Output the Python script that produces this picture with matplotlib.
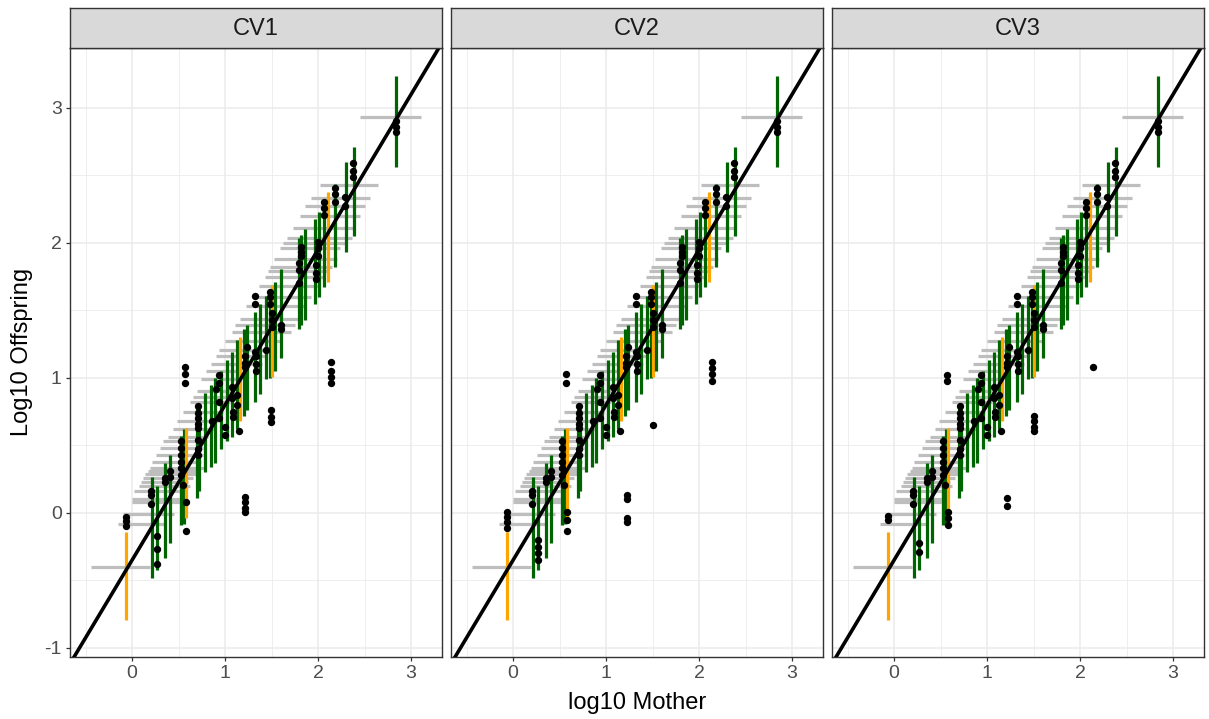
import matplotlib.pyplot as plt

plt.rcParams['font.family'] = ['Liberation Sans', 'DejaVu Sans']
plt.rcParams['axes.unicode_minus'] = False

panels = ["CV1", "CV2", "CV3"]

# fitted line
fit_intercept = -0.35
fit_slope = 1.15

# vertical intervals on offspring at each mother value
bar_x = [-0.07, 0.21, 0.27, 0.35, 0.41, 0.53, 0.56, 0.58, 0.70, 0.72,
         0.78, 0.85, 0.89, 0.96, 1.02, 1.07, 1.13, 1.16, 1.20, 1.24,
         1.32, 1.38, 1.44, 1.48, 1.50, 1.54, 1.60, 1.79, 1.82, 1.86,
         1.97, 2.01, 2.06, 2.11, 2.18, 2.30, 2.39, 2.84]
bar_lo = [-0.79, -0.48, -0.42, -0.33, -0.22, -0.09, -0.08, -0.04, 0.11, 0.16,
          0.30, 0.34, 0.37, 0.47, 0.53, 0.56, 0.62, 0.68, 0.72, 0.76,
          0.82, 0.88, 0.99, 1.00, 1.01, 1.05, 1.15, 1.36, 1.39, 1.43,
          1.55, 1.60, 1.67, 1.71, 1.82, 1.93, 2.05, 2.56]
bar_hi = [-0.14, 0.27, 0.20, 0.37, 0.43, 0.57, 0.62, 0.63, 0.81, 0.78,
          0.89, 0.95, 1.00, 1.05, 1.13, 1.19, 1.28, 1.30, 1.36, 1.39,
          1.49, 1.55, 1.61, 1.66, 1.69, 1.71, 1.81, 2.04, 2.06, 2.10,
          2.18, 2.23, 2.27, 2.38, 2.44, 2.60, 2.71, 3.24]
bar_outside = [1, 0, 0, 0, 0, 0, 0, 1, 0, 0,
               0, 0, 0, 0, 0, 0, 0, 1, 0, 0,
               0, 0, 0, 0, 1, 0, 0, 0, 0, 0,
               0, 0, 0, 1, 0, 0, 0, 0]

# horizontal intervals on mother at each offspring value
hbar_y = [-0.40, -0.08, -0.01, 0.08, 0.10, 0.16, 0.20, 0.23, 0.26, 0.29,
          0.31, 0.33, 0.38, 0.43, 0.48, 0.53, 0.56, 0.62, 0.68, 0.75,
          0.82, 0.86, 0.90, 0.99, 1.05, 1.10, 1.16, 1.21, 1.27, 1.34,
          1.39, 1.44, 1.53, 1.60, 1.68, 1.75, 1.79, 1.82, 1.88, 1.96,
          2.00, 2.04, 2.11, 2.20, 2.27, 2.33, 2.43, 2.93]
hbar_lo = [-0.44, -0.15, -0.10, 0.00, 0.00, 0.02, 0.07, 0.10, 0.12, 0.14,
           0.17, 0.19, 0.22, 0.26, 0.30, 0.33, 0.39, 0.44, 0.48, 0.55,
           0.62, 0.66, 0.70, 0.74, 0.80, 0.85, 0.90, 0.93, 1.00, 1.07,
           1.11, 1.16, 1.23, 1.30, 1.37, 1.43, 1.46, 1.48, 1.53, 1.59,
           1.62, 1.67, 1.73, 1.81, 1.86, 1.92, 2.02, 2.45]
hbar_hi = [0.19, 0.35, 0.45, 0.52, 0.55, 0.55, 0.62, 0.60, 0.66, 0.70,
           0.72, 0.78, 0.74, 0.76, 0.76, 0.80, 0.82, 0.88, 0.92, 0.98,
           1.05, 1.08, 1.08, 1.14, 1.18, 1.40, 1.45, 1.51, 1.60, 1.71,
           1.75, 1.78, 1.86, 1.92, 2.00, 2.08, 2.12, 2.15, 2.20, 2.24,
           2.30, 2.37, 2.38, 2.45, 2.50, 2.56, 2.64, 3.11]

# observations common to every fold
core_x = [0.20, 0.20, 0.20, 0.35, 0.35, 0.41, 0.41,
          0.53, 0.53, 0.53, 0.53, 0.53, 0.53, 0.55,
          0.71, 0.71, 0.71, 0.71, 0.71, 0.71, 0.71, 0.71,
          0.86, 0.90, 0.94, 0.94, 0.94, 0.94, 1.00, 1.00,
          1.07, 1.07, 1.13, 1.13, 1.15, 1.09, 1.09,
          1.22, 1.22, 1.22, 1.24, 1.32, 1.32, 1.33, 1.33, 1.33, 1.32,
          1.44, 1.48, 1.48, 1.48, 1.50, 1.50, 1.50, 1.60, 1.60,
          1.82, 1.82, 1.82, 1.80, 1.80, 1.79,
          2.00, 2.00, 2.00, 1.98, 1.98, 1.98,
          2.06, 2.06, 2.06, 2.18, 2.18, 2.18, 2.29, 2.29,
          2.38, 2.38, 2.38, 2.84, 2.84, 2.84]
core_y = [0.16, 0.13, 0.07, 0.26, 0.23, 0.31, 0.27,
          0.53, 0.48, 0.43, 0.38, 0.33, 0.28, 0.21,
          0.79, 0.74, 0.70, 0.66, 0.63, 0.54, 0.47, 0.43,
          0.68, 0.92, 1.02, 0.96, 0.82, 0.70, 0.64, 0.58,
          0.93, 0.85, 0.87, 0.80, 0.61, 0.75, 0.71,
          1.16, 1.11, 1.08, 1.23, 1.61, 1.55, 1.16, 1.10, 1.05, 1.19,
          1.21, 1.64, 1.60, 1.55, 1.48, 1.43, 1.38, 1.39, 1.36,
          1.97, 1.93, 1.90, 1.85, 1.80, 1.70,
          2.01, 1.96, 1.90, 1.84, 1.78, 1.73,
          2.30, 2.26, 2.21, 2.41, 2.36, 2.30, 2.34, 2.27,
          2.59, 2.53, 2.49, 2.90, 2.86, 2.82]

# observations that differ between folds
fold_x = {
    "CV1": [-0.07, -0.07, -0.07, 0.27, 0.27, 0.27, 0.58, 0.58,
            0.57, 0.57, 0.57, 1.21, 1.21, 1.21, 1.21,
            1.49, 1.49, 1.49, 2.14, 2.14, 2.14, 2.14],
    "CV2": [-0.07, -0.07, -0.07, -0.07, 0.27, 0.27, 0.27, 0.27,
            0.58, 0.58, 0.58, 0.57, 0.57, 1.23, 1.23, 1.23, 1.23,
            1.50, 2.14, 2.14, 2.14, 2.14],
    "CV3": [-0.07, -0.07, 0.27, 0.27, 0.58, 0.58, 0.58,
            0.57, 0.57, 1.22, 1.22,
            1.50, 1.50, 1.50, 1.50, 2.14],
}
fold_y = {
    "CV1": [-0.03, -0.06, -0.10, -0.17, -0.27, -0.38, 0.08, -0.13,
            1.08, 1.03, 0.96, 0.12, 0.08, 0.04, 0.01,
            0.76, 0.71, 0.67, 1.12, 1.05, 1.01, 0.96],
    "CV2": [0.01, -0.03, -0.07, -0.11, -0.20, -0.25, -0.30, -0.35,
            0.01, -0.05, -0.13, 1.03, 0.96, 0.13, 0.10, -0.04, -0.07,
            0.65, 1.12, 1.07, 1.03, 0.98],
    "CV3": [-0.02, -0.05, -0.22, -0.29, 0.01, -0.04, -0.09,
            1.02, 0.98, 0.11, 0.05,
            0.72, 0.68, 0.64, 0.61, 1.08],
}

W, H = 1209, 719
fig = plt.figure(figsize=(W / 100, H / 100), dpi=100)

panel_left = [70, 451, 832]
panel_w = 372
panel_top, panel_bottom = 48, 657
strip_top = 8

for i, name in enumerate(panels):
    x0 = panel_left[i]
    ax = fig.add_axes([x0 / W, 1 - panel_bottom / H, panel_w / W,
                       (panel_bottom - panel_top) / H])

    ax.hlines(hbar_y, hbar_lo, hbar_hi, color='#BEBEBE', lw=2.3, zorder=2)
    colors = ['#FFA500' if f else '#006400' for f in bar_outside]
    ax.vlines(bar_x, bar_lo, bar_hi, colors=colors, lw=2.3, zorder=3)
    ax.scatter(core_x + fold_x[name], core_y + fold_y[name], s=28,
               color='black', linewidths=0, zorder=4)
    ax.axline((0, fit_intercept), slope=fit_slope, color='black', lw=2.6,
              zorder=5)

    ax.set_xlim(-0.667, 3.333)
    ax.set_ylim(-1.067, 3.444)
    ax.set_xticks([0, 1, 2, 3])
    ax.set_yticks([-1, 0, 1, 2, 3])
    ax.set_xticks([-0.5, 0.5, 1.5, 2.5], minor=True)
    ax.set_yticks([-0.5, 0.5, 1.5, 2.5], minor=True)
    ax.grid(which='major', color='#EBEBEB', lw=1.1, zorder=0)
    ax.grid(which='minor', color='#EBEBEB', lw=0.6, zorder=0)
    ax.set_axisbelow(True)
    ax.tick_params(which='minor', length=0)
    ax.tick_params(which='major', length=3, width=0.9, color='#333333',
                   labelsize=14, labelcolor='#4D4D4D', pad=3)
    if i > 0:
        ax.tick_params(axis='y', labelleft=False, length=0)
    for s in ax.spines.values():
        s.set_color('#333333')
        s.set_linewidth(1.0)

    # facet strip
    sax = fig.add_axes([x0 / W, 1 - panel_top / H, panel_w / W,
                        (panel_top - strip_top) / H])
    sax.set_facecolor('#D9D9D9')
    sax.set_xticks([])
    sax.set_yticks([])
    for s in sax.spines.values():
        s.set_color('#333333')
        s.set_linewidth(1.0)
    sax.text(0.5, 0.47, name, ha='center', va='center', fontsize=17,
             color='#1A1A1A', transform=sax.transAxes)

fig.text(637 / W, 1 - 703 / H, "log10 Mother", ha='center', va='center',
         fontsize=17, color='black')
fig.text(22 / W, 1 - 352 / H, "Log10 Offspring", ha='center', va='center',
         rotation=90, fontsize=17, color='black')

fig.savefig('out.png', dpi=100)
